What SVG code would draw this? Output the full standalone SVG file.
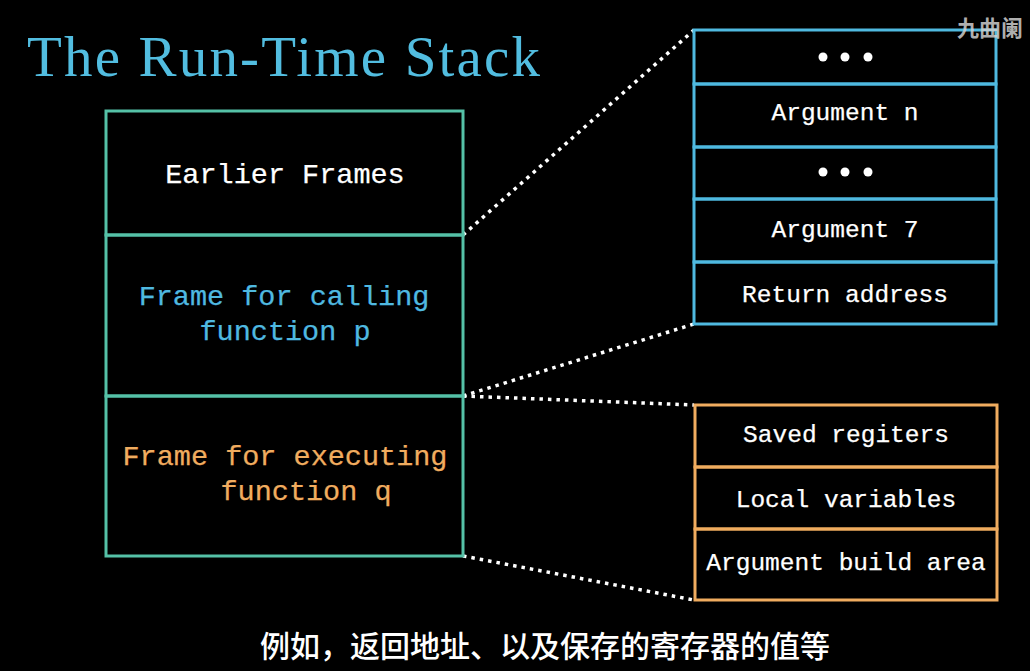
<svg xmlns="http://www.w3.org/2000/svg" width="1030" height="671" viewBox="0 0 1030 671">
<style>
.teal{fill:none;stroke:#55C1A7;stroke-width:3}
.blue{fill:none;stroke:#4FB9E0;stroke-width:3}
.orange{fill:none;stroke:#F0AC5F;stroke-width:3}
.mono{font-family:"Liberation Mono","DejaVu Sans Mono",monospace;text-anchor:middle;stroke-width:0.25}
.big{font-size:28.5px}
.small{font-size:24.5px}
.w{fill:#ffffff;stroke:#ffffff}
.b{fill:#4FB9E0;stroke:#4FB9E0}
.o{fill:#F0AC5F;stroke:#F0AC5F}
.dot{stroke:#ffffff;stroke-width:3.5;stroke-dasharray:3.5 5;fill:none}
</style>
<rect x="0" y="0" width="1030" height="671" fill="#000000"/>
<text id="title" x="27" y="76" font-family="Liberation Serif,serif" font-size="57" fill="#52BDE0" textLength="513" lengthAdjust="spacing">The Run-Time Stack</text>
<g id="connectors">
<line class="dot" x1="463" y1="235" x2="694" y2="30"/>
<line class="dot" x1="463" y1="396" x2="694" y2="324"/>
<line class="dot" x1="463" y1="396" x2="694" y2="405"/>
<line class="dot" x1="463" y1="556" x2="694" y2="600"/>
</g>
<g id="earlier-frames">
<rect class="teal" x="106" y="111" width="357" height="124"/>
<text class="mono big w" x="285" y="183">Earlier Frames</text>
</g>
<g id="frame-p">
<rect class="teal" x="106" y="235" width="357" height="161"/>
<text class="mono big b" x="284" y="305">Frame for calling</text>
<text class="mono big b" x="285" y="340">function p</text>
</g>
<g id="frame-q">
<rect class="teal" x="106" y="396" width="357" height="160"/>
<text class="mono big o" x="285" y="465">Frame for executing</text>
<text class="mono big o" x="306" y="500">function q</text>
</g>
<g id="dots-top">
<rect class="blue" x="694" y="30" width="302" height="54"/>
<circle cx="823" cy="57" r="4.5" fill="#fff"/><circle cx="845" cy="57" r="4.5" fill="#fff"/><circle cx="868" cy="57" r="4.5" fill="#fff"/>
</g>
<g id="argument-n">
<rect class="blue" x="694" y="84" width="302" height="63"/>
<text class="mono small w" x="845" y="120">Argument n</text>
</g>
<g id="dots-mid">
<rect class="blue" x="694" y="147" width="302" height="52"/>
<circle cx="823" cy="172" r="4.5" fill="#fff"/><circle cx="845" cy="172" r="4.5" fill="#fff"/><circle cx="868" cy="172" r="4.5" fill="#fff"/>
</g>
<g id="argument-7">
<rect class="blue" x="694" y="199" width="302" height="63"/>
<text class="mono small w" x="845" y="237">Argument 7</text>
</g>
<g id="return-address">
<rect class="blue" x="694" y="262" width="302" height="62"/>
<text class="mono small w" x="845" y="302">Return address</text>
</g>
<g id="saved-registers">
<rect class="orange" x="695" y="405" width="302" height="62"/>
<text class="mono small w" x="846" y="442">Saved regiters</text>
</g>
<g id="local-variables">
<rect class="orange" x="695" y="467" width="302" height="62"/>
<text class="mono small w" x="846" y="507">Local variables</text>
</g>
<g id="argument-build-area">
<rect class="orange" x="695" y="529" width="302" height="71"/>
<text class="mono small w" x="846" y="570">Argument build area</text>
</g>
<text id="subtitle" x="545" y="657" font-family="Noto Sans CJK SC,sans-serif" font-size="30" font-weight="500" fill="#ffffff" text-anchor="middle">例如，返回地址、以及保存的寄存器的值等</text>
<text id="watermark" x="957" y="36" font-family="Noto Sans CJK SC,sans-serif" font-size="22" font-weight="700" fill="#d0d0d0" fill-opacity="0.85">九曲阑</text>
</svg>
